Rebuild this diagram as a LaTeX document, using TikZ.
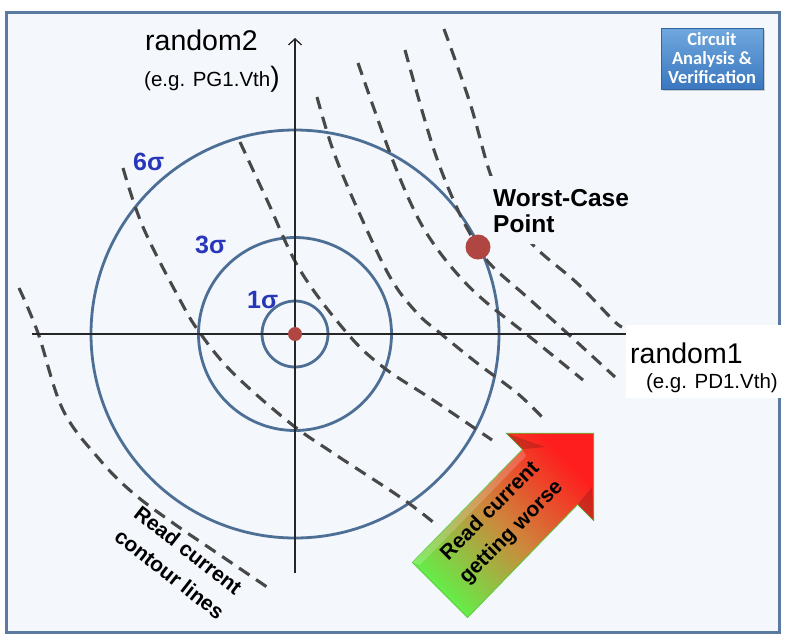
\documentclass[tikz,border=0pt]{standalone}
\usepackage{fontspec}
\setmainfont{Liberation Sans}
\newfontfamily\carlitofont{Carlito}
\usetikzlibrary{arrows.meta,shadows}
\definecolor{bgc}{RGB}{244,247,251}
\definecolor{framec}{RGB}{90,123,159}
\definecolor{circc}{RGB}{77,111,150}
\definecolor{dashc}{RGB}{72,72,72}
\definecolor{sigc}{RGB}{40,55,185}
\definecolor{dotc}{RGB}{176,70,66}
\definecolor{boxtop}{RGB}{112,168,222}
\definecolor{boxbot}{RGB}{58,119,191}
\definecolor{arrg}{RGB}{100,238,72}
\definecolor{arrr}{RGB}{255,30,30}
\definecolor{arrm}{RGB}{205,135,60}
\begin{document}
\begin{tikzpicture}[x=1pt,y=-1pt,
  framebox/.style={draw=framec,line width=3pt,fill=bgc},
  circ/.style={draw=circc,line width=2.8pt},
  contour/.style={draw=dashc,line width=3.1pt,dash pattern=on 12.5pt off 8pt},
  axisline/.style={draw=black!85,line width=1.3pt,-{Straight Barb[length=6pt,width=13pt,line width=1.3pt]}},
  biglbl/.style={font=\fontsize{28.5}{32}\selectfont,inner sep=0pt},
  eglbl/.style={font=\fontsize{20.5}{24}\selectfont,inner sep=0pt},
  sig/.style={text=sigc,font=\fontsize{25}{30}\selectfont\bfseries,anchor=base west,inner sep=0pt},
  wclbl/.style={font=\fontsize{24.5}{28}\selectfont\bfseries,anchor=base west,inner sep=0pt},
  rottxt/.style={font=\fontsize{21}{25}\selectfont\bfseries,align=center,inner sep=0pt},
  dot/.style={circle,fill=dotc,inner sep=0pt},
  cavbox/.style={draw=boxbot!85!black,line width=0.6pt,top color=boxtop,bottom color=boxbot,
    minimum width=102pt,minimum height=61pt,inner sep=0pt,
    drop shadow={opacity=0.35,shadow xshift=2pt,shadow yshift=-2pt},
    text=white,font=\carlitofont\bfseries\fontsize{18.5}{19}\selectfont,align=center}
]
\useasboundingbox (0,0) rectangle (793,641);
% frame
\draw[framebox] (6,12) rectangle (779,632);

% centre and circles
\coordinate (o) at (295,334);
\draw[circ] (o) circle[radius=33];
\draw[circ] (o) circle[radius=96.5];
\draw[circ] (o) circle[radius=204];

% contour lines
\draw[contour] plot[smooth,tension=0.6] coordinates {(19,288) (38,333) (63,410) (100,460) (133,493) (173,523) (217,553) (267,587)};
\draw[contour] plot[smooth,tension=0.6] coordinates {(123,168) (143,227) (180,300) (200,333) (233,373) (290,423) (333,453) (400,497) (433,522)};
\draw[contour] plot[smooth,tension=0.6] coordinates {(240,142) (267,200) (300,270) (347,333) (383,367) (433,400) (492,440)};
\draw[contour] plot[smooth,tension=0.6] coordinates {(317,97) (333,150) (357,208) (390,277) (417,313) (440,333) (477,363) (517,393) (542,417)};
\draw[contour] plot[smooth,tension=0.6] coordinates {(358,63) (390,153) (413,208) (433,243) (460,277) (487,303) (530,337) (583,380)};
\draw[contour] plot[smooth,tension=0.6] coordinates {(405,50) (433,147) (457,208) (478,247) (493,267) (527,297) (567,333) (615,377)};
\draw[contour] plot[smooth,tension=0.6] coordinates {(444,29) (470,103) (490,173) (508,212) (535,247) (577,283) (613,320) (622,327)};

% hide contour behind the label
\fill[bgc] (488,176) rectangle (632,244);

% axes
\coordinate (xl) at (32,334);
\coordinate (xr) at (668,334);
\coordinate (yb) at (295,573);
\coordinate (yt) at (295,38);
\draw[axisline] (xl) -- (xr);
\draw[axisline] (yb) -- (yt);

% dots
\node[dot,minimum size=14pt] (c0) at (o) {};
\node[dot,minimum size=25pt] (wc) at (478,247) {};

% labels
\node[biglbl,anchor=base west] (r2) at (145,50) {random2};
\node[eglbl,anchor=base west] (r2e) at (144,86) {(e.g. PG1.Vth{\fontsize{28}{30}\selectfont)}};
\node[fill=white,minimum width=164pt,minimum height=73pt,inner sep=0pt,anchor=north west] (r1box) at (626,325) {};
\node[biglbl,anchor=base west] (r1) at (630,363) {random1};
\node[eglbl,anchor=base east] (r1e) at (778,388) {(e.g. PD1.Vth)};

\node[sig] (s6) at (133,170) {6σ};
\node[sig] (s3) at (195,253) {3σ};
\node[sig] (s1) at (247,308) {1σ};

\node[wclbl] (wc1) at (493,206) {Worst-Case};
\node[wclbl] (wc2) at (493,232) {Point};

\node[rottxt,rotate=-38] (rcc) at (179,562) {Read current\\[5pt]contour lines};

% big arrow
\coordinate (tl) at (412.4,562.4);
\coordinate (sl) at (522.4,449.4);
\coordinate (wl) at (506.2,433.2);
\coordinate (tip) at (593.8,433.2);
\coordinate (wr) at (593.8,520.8);
\coordinate (sr) at (577.6,504.6);
\coordinate (tr) at (467.6,617.6);
\path[draw=arrg!85!black,line width=0.7pt,top color=arrr,bottom color=arrg,middle color=arrm,shading angle=-45]
  (tl) -- (sl) -- (wl) -- (tip) -- (wr) -- (sr) -- (tr) -- cycle;
\fill[black,opacity=0.16] (wl) -- (545,447) -- (sl) -- cycle;
\fill[black,opacity=0.16] (wr) -- (sr) -- (592,487) -- cycle;
\fill[white,opacity=0.18] (tl) -- (sl) -- (526,456) -- (420,565) -- cycle;
\node[rottxt,rotate=45] (rcw) at (501,522) {Read current\\[5pt]getting worse};

% badge
\node[cavbox] (cav) at (712,58.5) {Circuit\\Analysis \&\\Verification};
\end{tikzpicture}
\end{document}
